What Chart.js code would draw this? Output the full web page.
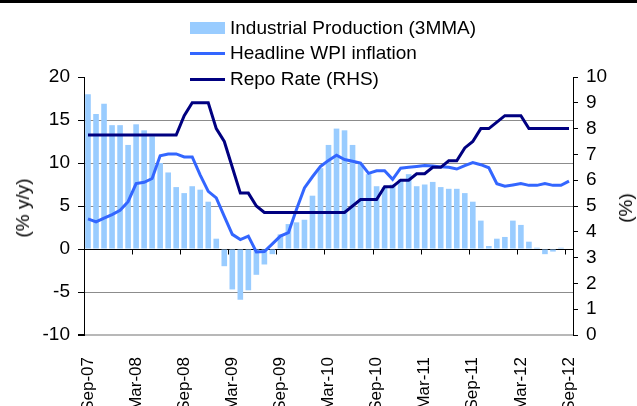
<!DOCTYPE html>
<html>
<head>
<meta charset="utf-8">
<script src="https://cdn.jsdelivr.net/npm/chart.js@4.4.0/dist/chart.umd.min.js"></script>
<style>
  html, body { margin: 0; padding: 0; background: #fff; }
  #wrap { position: relative; width: 637px; height: 406px; overflow: hidden; font-family: "Liberation Sans", Arial, sans-serif; color: #000; }
  #topRule { position: absolute; left: 0; top: 0; width: 637px; height: 3px; background: #000; }
  .legend-item { position: absolute; left: 190px; height: 22px; display: flex; align-items: center; font-size: 19px; white-space: nowrap; }
  .swatch-bar { width: 35px; height: 12px; background: #99ccff; margin-right: 5px; }
  .swatch-line { width: 35px; height: 3px; margin-right: 5px; }
  .axis-title { position: absolute; font-size: 19px; white-space: nowrap; transform: translate(-50%, -50%) rotate(-90deg); }
  canvas { position: absolute; left: 0; top: 0; }
</style>
</head>
<body>
<div id="wrap">
  <canvas id="chart" width="637" height="406"></canvas>
  <div id="topRule"></div>
  <div class="legend-item" style="top:17px;"><span class="swatch-bar"></span><span>Industrial Production (3MMA)</span></div>
  <div class="legend-item" style="top:42px;"><span class="swatch-line" style="background:#3366ff;"></span><span>Headline WPI inflation</span></div>
  <div class="legend-item" style="top:68px;"><span class="swatch-line" style="background:#000080;"></span><span>Repo Rate (RHS)</span></div>
  <div class="axis-title" style="left:23px; top:208px;">(% y/y)</div>
  <div class="axis-title" style="left:626px; top:208px;">(%)</div>
</div>
<script>
// Monthly, Sep-07 .. Sep-12
const monthNames = ['Jan', 'Feb', 'Mar', 'Apr', 'May', 'Jun', 'Jul', 'Aug', 'Sep', 'Oct', 'Nov', 'Dec'];
const labels = [];
for (let i = 0; i < 61; i++) {
  const m = (8 + i) % 12;
  const yr = 7 + Math.floor((8 + i) / 12);
  labels.push(monthNames[m] + '-' + String(yr).padStart(2, '0'));
}

// Industrial Production (3MMA), % y/y
const ipGrowth = [
  18.0, 15.7, 16.9, 14.4, 14.4, 12.1, 14.5, 13.8, 13.1, 10.0, 8.9, 7.2,
  6.5, 7.3, 6.9, 5.5, 1.2, -2.0, -4.7, -5.9, -4.8, -3.0, -1.8, -0.6,
  1.7, 2.9, 3.1, 3.4, 6.2, 9.4, 12.1, 14.0, 13.8, 12.1, 10.0, 8.7,
  7.3, 7.2, 7.5, 8.1, 8.7, 7.3, 7.5, 7.8, 7.2, 7.0, 7.0, 6.5,
  5.5, 3.3, 0.35, 1.2, 1.4, 3.3, 2.8, 0.85, 0.15, -0.6, -0.3, 0.15,
  null
];

// Headline WPI inflation, % y/y
const wpiInflation = [
  3.5, 3.15, 3.6, 4.0, 4.5, 5.5, 7.6, 7.75, 8.2, 10.85, 11.05, 11.05,
  10.7, 10.7, 8.6, 6.7, 5.95, 3.8, 1.7, 1.1, 1.5, -0.35, -0.3, 0.6,
  1.5, 1.9, 4.6, 7.1, 8.4, 9.6, 10.3, 10.9, 10.4, 10.2, 10.0, 8.8,
  9.1, 9.1, 8.1, 9.4, 9.5, 9.6, 9.7, 9.65, 9.55, 9.5, 9.3, 9.7,
  10.05, 9.8, 9.45, 7.6, 7.3, 7.45, 7.6, 7.4, 7.4, 7.6, 7.4, 7.4,
  7.9
];

// Repo rate, % (right axis)
const repoRate = [
  7.75, 7.75, 7.75, 7.75, 7.75, 7.75, 7.75, 7.75, 7.75, 7.75, 7.75, 7.75,
  8.5, 9.0, 9.0, 9.0, 8.0, 7.5, 6.5, 5.5, 5.5, 5.0, 4.75, 4.75,
  4.75, 4.75, 4.75, 4.75, 4.75, 4.75, 4.75, 4.75, 4.75, 5.0, 5.25, 5.25,
  5.25, 5.75, 5.75, 6.0, 6.0, 6.25, 6.25, 6.5, 6.5, 6.75, 6.75, 7.25,
  7.5, 8.0, 8.0, 8.25, 8.5, 8.5, 8.5, 8.0, 8.0, 8.0, 8.0, 8.0,
  8.0
];

const leftTicks = [-10, -5, 0, 5, 10, 15, 20];
const rightTicks = [0, 1, 2, 3, 4, 5, 6, 7, 8, 9, 10];

const tickFont = { family: 'Liberation Sans', size: 19 };

// Small tick marks hanging from the zero line, every 6 months
const zeroTicks = {
  id: 'zeroTicks',
  afterDatasetsDraw(chart) {
    const xs = chart.scales.x;
    const ys = chart.scales.y;
    const ctx = chart.ctx;
    const y0 = Math.round(ys.getPixelForValue(0)) + 0.5;
    const half = (xs.getPixelForValue(1) - xs.getPixelForValue(0)) / 2;
    ctx.save();
    ctx.strokeStyle = '#000';
    ctx.lineWidth = 1;
    ctx.beginPath();
    for (let i = 0; i < labels.length; i += 6) {
      const px = Math.round(xs.getPixelForValue(i) - half) + 0.5;
      ctx.moveTo(px, y0);
      ctx.lineTo(px, y0 + 5);
    }
    ctx.stroke();
    ctx.restore();
  }
};

new Chart(document.getElementById('chart'), {
  data: {
    labels: labels,
    datasets: [
      {
        type: 'line',
        label: 'Repo Rate (RHS)',
        data: repoRate,
        yAxisID: 'y1',
        borderColor: '#000080',
        borderWidth: 3,
        pointRadius: 0,
        tension: 0,
        order: 1
      },
      {
        type: 'line',
        label: 'Headline WPI inflation',
        data: wpiInflation,
        yAxisID: 'y',
        borderColor: '#3366ff',
        borderWidth: 3,
        pointRadius: 0,
        tension: 0,
        order: 2
      },
      {
        type: 'bar',
        label: 'Industrial Production (3MMA)',
        data: ipGrowth,
        yAxisID: 'y',
        backgroundColor: '#99ccff',
        barPercentage: 0.7,
        categoryPercentage: 1.0,
        order: 3
      }
    ]
  },
  options: {
    responsive: false,
    animation: false,
    layout: { padding: { top: 77, left: 0, right: 0, bottom: 0 } },
    plugins: {
      legend: { display: false },
      tooltip: { enabled: false }
    },
    scales: {
      x: {
        offset: true,
        grid: { display: false },
        border: { display: false },
        ticks: {
          autoSkip: false,
          minRotation: 90,
          maxRotation: 90,
          padding: 14,
          color: '#000',
          font: { family: 'Liberation Sans', size: 17 },
          callback: (v, i) => (i % 6 === 0 ? labels[i] : '')
        },
        afterFit: (s) => { s.height = 71; }
      },
      y: {
        position: 'left',
        min: -10,
        max: 20,
        afterBuildTicks: (s) => { s.ticks = leftTicks.map(v => ({ value: v })); },
        grid: {
          color: (c) => {
            const v = c.tick && c.tick.value;
            if (v === 0) return '#000';
            if (v === 20) return 'rgba(0,0,0,0)';
            if (v === -10) return '#b8b8b8';
            return '#8c8c8c';
          },
          lineWidth: (c) => (c.tick && c.tick.value === -10 ? 2 : 1),
          tickColor: '#000',
          tickLength: 6
        },
        border: { display: true, color: '#000', width: 1 },
        ticks: { color: '#000', font: tickFont, padding: 8 },
        afterFit: (s) => { s.width = 84; }
      },
      y1: {
        position: 'right',
        min: 0,
        max: 10,
        afterBuildTicks: (s) => { s.ticks = rightTicks.map(v => ({ value: v })); },
        grid: { drawOnChartArea: false, tickColor: '#000', tickLength: 5 },
        border: { display: true, color: '#000', width: 1 },
        ticks: { color: '#000', font: tickFont, padding: 8 },
        afterFit: (s) => { s.width = 64; }
      }
    }
  },
  plugins: [zeroTicks]
});
</script>
</body>
</html>
